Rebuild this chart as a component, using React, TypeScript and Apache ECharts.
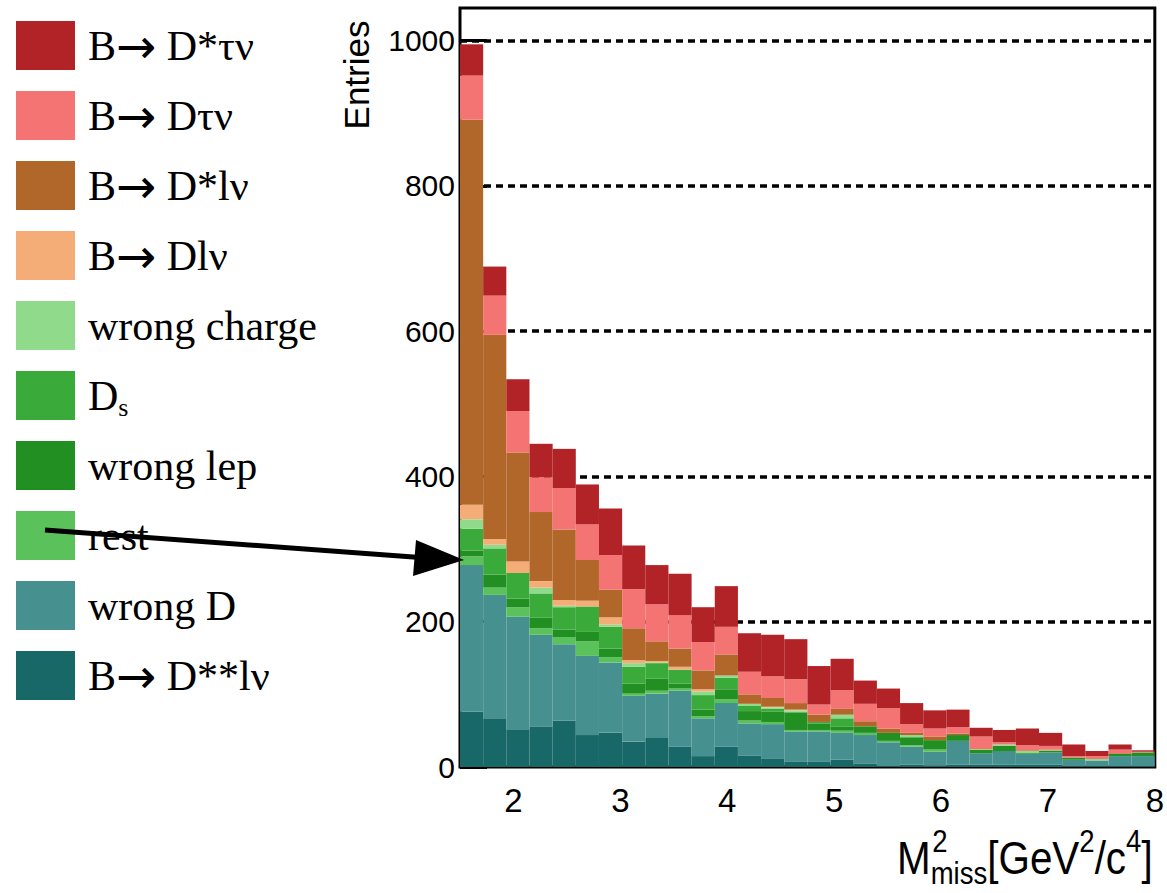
import React, { useEffect, useRef } from "react";
import * as echarts from "echarts";

// Bin centres of the M²miss histogram (30 bins from 1.5 to 8 GeV²/c⁴)
const BIN_CENTERS = [
  "1.61", "1.83", "2.04", "2.26", "2.48", "2.69", "2.91", "3.13", "3.34", "3.56",
  "3.78", "3.99", "4.21", "4.43", "4.64", "4.86", "5.08", "5.29", "5.51", "5.73",
  "5.94", "6.16", "6.38", "6.59", "6.81", "7.03", "7.24", "7.46", "7.68", "7.89",
];

// Entries per bin, one array per component (bottom of the stack first)
const D2STAR_LNU = [76, 67, 52, 56, 64, 44, 47, 35, 40, 28, 15, 28, 16, 12, 7, 7, 10, 5, 1, 3, 2, 3, 3, 3, 3, 3, 1, 1, 1, 1];
const WRONG_D = [202, 170, 155, 126, 105, 109, 97, 63, 61, 77, 52, 60, 44, 47, 42, 42, 37, 39, 33, 25, 19, 33, 16, 19, 15, 17, 9, 8, 14, 14];
const REST = [12, 10, 13, 9, 10, 20, 7, 3, 4, 3, 3, 5, 4, 3, 2, 2, 3, 3, 2, 2, 3, 0, 0, 0, 0, 0, 0, 0, 0, 0];
const WRONG_LEP = [8, 18, 12, 15, 10, 13, 12, 14, 17, 7, 9, 14, 13, 14, 24, 9, 6, 9, 11, 11, 13, 8, 5, 7, 1, 2, 3, 0, 3, 5];
const DS = [30, 36, 35, 33, 31, 35, 30, 23, 21, 19, 20, 16, 7, 4, 1, 2, 11, 0, 0, 0, 0, 0, 0, 0, 1, 0, 0, 0, 0, 0];
const WRONG_CHARGE = [13, 5, 0, 8, 2, 0, 3, 5, 1, 0, 5, 3, 3, 2, 2, 0, 5, 0, 0, 3, 0, 0, 0, 2, 2, 1, 0, 2, 0, 0];
const D_LNU = [20, 8, 16, 9, 8, 8, 10, 4, 2, 4, 3, 0, 0, 1, 1, 0, 0, 0, 0, 0, 0, 0, 1, 0, 0, 0, 0, 0, 0, 0];
const DSTAR_LNU = [530, 281, 150, 95, 97, 56, 38, 44, 27, 25, 26, 29, 13, 12, 9, 10, 8, 7, 6, 3, 5, 2, 1, 0, 1, 1, 0, 0, 1, 0];
const D_TAUNU = [61, 54, 57, 48, 57, 49, 48, 54, 51, 46, 39, 38, 31, 30, 33, 14, 26, 24, 28, 12, 11, 9, 16, 3, 7, 5, 2, 4, 5, 1];
const DSTAR_TAUNU = [43, 40, 44, 46, 54, 55, 64, 60, 54, 57, 48, 56, 53, 57, 55, 53, 43, 32, 27, 29, 25, 24, 12, 17, 23, 18, 16, 7, 7, 2];

const SERIES_NAMES = [
  "B→ D**lν", "wrong D", "rest", "wrong lep", "Ds",
  "wrong charge", "B→ Dlν", "B→ D*lν", "B→ Dτν", "B→ D*τν",
];
const SERIES_DATA = [D2STAR_LNU, WRONG_D, REST, WRONG_LEP, DS, WRONG_CHARGE, D_LNU, DSTAR_LNU, D_TAUNU, DSTAR_TAUNU];
const SERIES_COLORS = [
  "#186868", "#469090", "#5BC25B", "#228F22", "#3AAA3A",
  "#8FDB8B", "#F5AD77", "#B1672A", "#F47474", "#B22328",
];
const LEGEND_ORDER = [...SERIES_NAMES].reverse();

const X_MIN = 1.5;
const X_MAX = 8;
const Y_MIN = 0;
const Y_MAX = 1045;
const Y_INTERVAL = 200;

const SERIF = '"Liberation Serif", "Times New Roman", serif';
const SANS = '"Liberation Sans", Arial, sans-serif';

export default function App() {
  const ref = useRef<HTMLDivElement>(null);

  useEffect(() => {
    if (!ref.current) return;
    const chart = echarts.init(ref.current, null, { renderer: "svg" });

    const series = SERIES_NAMES.map((name, i) => ({
      type: "bar",
      name,
      data: SERIES_DATA[i],
      stack: "all",
      xAxisIndex: 0,
      yAxisIndex: 0,
      barWidth: "100%",
      barCategoryGap: "0%",
      silent: true,
      itemStyle: { color: SERIES_COLORS[i] },
      emphasis: { disabled: true },
    }));

    chart.setOption({
      animation: false,
      backgroundColor: "#ffffff",
      grid: {
        left: 460,
        top: 8,
        width: 695,
        height: 759,
        show: true,
        borderColor: "#000",
        borderWidth: 3,
        backgroundColor: "transparent",
      },
      legend: {
        orient: "vertical",
        left: 16,
        top: 21,
        padding: 0,
        itemWidth: 59,
        itemHeight: 49,
        itemGap: 21,
        icon: "rect",
        selectedMode: false,
        data: LEGEND_ORDER,
        formatter: (n: string) =>
          n === "Ds" ? "{d|D}{s|s}" : n.replace("→", "{a|→}"),
        textStyle: {
          fontFamily: SERIF,
          fontSize: 42,
          lineHeight: 49,
          color: "#000",
          padding: [0, 0, 0, 8],
          rich: {
            a: { fontFamily: '"DejaVu Sans", sans-serif', fontSize: 48, lineHeight: 40, color: "#000" },
            d: { fontFamily: SERIF, fontSize: 42, lineHeight: 49, color: "#000" },
            s: { fontFamily: SERIF, fontSize: 26, lineHeight: 22, color: "#000", verticalAlign: "bottom" },
          },
        },
      },
      xAxis: [
        {
          type: "category",
          data: BIN_CENTERS,
          show: false,
          boundaryGap: true,
        },
        {
          type: "value",
          min: X_MIN,
          max: X_MAX,
          position: "bottom",
          axisLine: { show: false },
          axisTick: { show: false },
          splitLine: { show: false },
          axisLabel: {
            margin: 17,
            fontFamily: SANS,
            fontSize: 33,
            color: "#000",
            formatter: (v: number) => (Number.isInteger(v) ? String(v) : ""),
          },
        },
      ],
      yAxis: {
        type: "value",
        min: Y_MIN,
        max: Y_MAX,
        interval: Y_INTERVAL,
        axisLine: { show: false },
        axisTick: { show: true, inside: true, length: 27, lineStyle: { color: "#000", width: 3 } },
        splitLine: {
          show: true,
          showMinLine: false,
          showMaxLine: false,
          lineStyle: { color: "#000", width: 3.5, type: [7, 5] },
        },
        axisLabel: {
          margin: 5,
          fontFamily: SANS,
          fontSize: 30,
          color: "#000",
          showMaxLabel: false,
          formatter: (v: number) => String(v),
        },
      },
      series,
      graphic: [
        {
          type: "text",
          x: 356,
          y: 75,
          rotation: Math.PI / 2,
          style: {
            text: "Entries",
            fontFamily: SANS,
            fontSize: 35,
            fill: "#000",
            align: "center",
            verticalAlign: "middle",
          },
        },
        {
          type: "group",
          x: 897,
          y: 0,
          scaleX: 0.86,
          children: [
            {
              type: "text",
              x: 0,
              y: 825,
              style: {
                text: "{m|M}{sub|miss}{m|[GeV}{sup|2}{m|/c}{sup|4}{m|]}",
                align: "left",
                verticalAlign: "top",
                rich: {
                  m: { fontFamily: SANS, fontSize: 47, lineHeight: 64, fill: "#000" },
                  sub: { fontFamily: SANS, fontSize: 32, lineHeight: 28, fill: "#000", verticalAlign: "bottom" },
                  sup: { fontFamily: SANS, fontSize: 32, lineHeight: 32, fill: "#000", verticalAlign: "top" },
                },
              },
            },
            {
              type: "text",
              x: 41,
              y: 841,
              style: {
                text: "2",
                fontFamily: SANS,
                fontSize: 32,
                fill: "#000",
                align: "left",
                verticalAlign: "middle",
              },
            },
          ],
        },
        {
          type: "line",
          z: 100,
          shape: { x1: 45, y1: 530, x2: 420, y2: 557.5 },
          style: { stroke: "#000", lineWidth: 5 },
        },
        {
          type: "polygon",
          z: 100,
          shape: { points: [[464, 560], [416, 540], [413, 576]] },
          style: { fill: "#000" },
        },
      ],
    });

    return () => chart.dispose();
  }, []);

  return (
    <div
      ref={ref}
      style={{ position: "absolute", left: 0, top: 0, width: 1167, height: 893, background: "#fff" }}
    />
  );
}
